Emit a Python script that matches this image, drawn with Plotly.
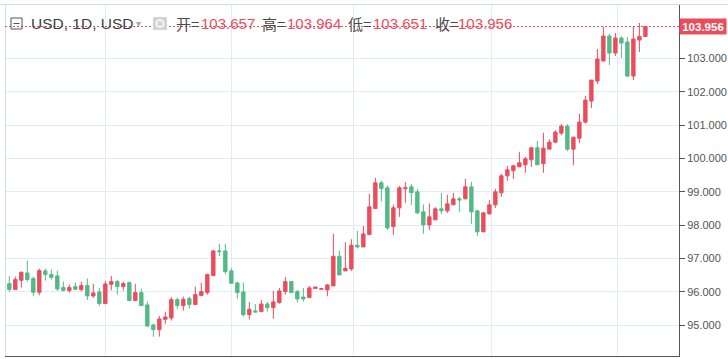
import plotly.graph_objects as go

# ---- data ----
opens = [96.25, 96.07, 96.35, 96.57, 96.40, 95.99, 96.63, 96.52, 96.48, 96.13,
         96.04, 96.16, 96.07, 96.19, 95.88, 96.00, 95.65, 96.23, 96.31, 96.16,
         96.28, 95.74, 95.98, 95.61, 95.01, 94.87, 95.18, 95.22, 95.77, 95.59,
         95.80, 95.62, 95.89, 95.98, 96.49, 97.23, 97.23, 96.63, 96.27, 96.00,
         95.32, 95.43, 95.41, 95.64, 95.53, 95.68, 96.01, 96.31, 96.01, 95.85,
         95.83, 96.10, 96.08, 96.06, 96.18, 97.07, 96.63, 96.69, 97.40, 97.35,
         97.72, 98.50, 99.27, 99.12, 97.96, 98.52, 99.09, 99.15, 99.00, 98.40,
         98.01, 98.16, 98.49, 98.43, 98.61, 98.79, 98.79, 99.15, 98.43, 97.80,
         98.34, 98.61, 98.97, 99.48, 99.63, 99.75, 99.81, 99.96, 100.32, 99.84,
         100.28, 100.49, 100.76, 100.97, 100.28, 100.61, 101.09, 101.72, 102.32, 102.92,
         103.67, 103.16, 103.61, 103.49, 102.47, 103.55, 103.657]
highs = [96.47, 96.46, 96.61, 96.94, 96.46, 96.70, 96.70, 96.67, 96.64, 96.31,
         96.22, 96.28, 96.31, 96.40, 96.24, 96.12, 96.33, 96.48, 96.36, 96.31,
         96.31, 96.24, 96.10, 95.71, 95.05, 95.28, 95.41, 95.85, 95.83, 95.86,
         95.86, 96.16, 96.28, 96.55, 97.25, 97.44, 97.44, 96.71, 96.31, 96.28,
         95.70, 95.64, 95.76, 95.70, 96.03, 96.12, 96.45, 96.31, 96.06, 96.12,
         96.18, 96.15, 96.10, 96.24, 97.74, 97.24, 97.49, 97.58, 97.83, 97.98,
         98.94, 99.42, 99.33, 99.19, 98.61, 99.18, 99.30, 99.24, 99.09, 98.62,
         98.65, 98.54, 98.97, 98.91, 98.97, 98.85, 99.39, 99.30, 98.46, 98.40,
         98.76, 99.09, 99.54, 99.78, 99.81, 100.20, 100.05, 100.35, 100.53, 100.77,
         100.58, 100.85, 101.03, 101.03, 100.64, 101.34, 101.88, 102.35, 103.28, 103.94,
         103.73, 103.76, 103.67, 103.64, 103.94, 104.06, 103.964]
lows = [96.01, 96.07, 96.13, 96.31, 95.87, 95.90, 96.34, 96.37, 96.03, 96.01,
        95.98, 96.07, 96.01, 95.76, 95.82, 95.58, 95.65, 96.05, 95.92, 96.04,
        95.72, 95.74, 95.59, 94.95, 94.66, 94.66, 95.04, 95.14, 95.49, 95.44,
        95.50, 95.62, 95.89, 95.92, 96.49, 97.07, 96.53, 96.26, 95.80, 95.26,
        95.17, 95.39, 95.41, 95.41, 95.20, 95.65, 95.92, 95.98, 95.68, 95.71,
        95.83, 96.10, 96.08, 95.87, 96.18, 96.51, 96.63, 96.63, 97.30, 97.35,
        97.72, 98.50, 98.71, 97.86, 97.71, 98.25, 98.67, 98.61, 98.34, 97.74,
        97.85, 98.16, 98.34, 98.37, 98.61, 98.40, 98.79, 98.04, 97.68, 97.80,
        98.31, 98.52, 98.85, 99.33, 99.39, 99.75, 99.57, 99.75, 99.81, 99.57,
        100.28, 100.46, 100.70, 100.22, 99.80, 100.46, 101.04, 101.51, 102.23, 102.92,
        102.80, 103.07, 103.01, 102.44, 102.35, 103.19, 103.651]
closes = [96.07, 96.37, 96.59, 96.37, 95.99, 96.64, 96.52, 96.44, 96.09, 96.05,
          96.13, 96.08, 96.19, 95.88, 95.97, 95.65, 96.24, 96.31, 96.16, 96.25,
          95.74, 95.98, 95.59, 94.98, 94.87, 95.19, 95.25, 95.77, 95.59, 95.78,
          95.62, 95.92, 96.01, 96.52, 97.23, 97.21, 96.61, 96.26, 95.98, 95.32,
          95.48, 95.40, 95.64, 95.53, 95.70, 96.03, 96.31, 95.98, 95.79, 95.79,
          96.12, 96.15, 96.10, 96.21, 97.07, 96.51, 96.71, 97.40, 97.35, 97.74,
          98.55, 99.27, 99.10, 97.92, 98.52, 99.12, 99.12, 98.98, 98.37, 98.01,
          98.25, 98.49, 98.43, 98.64, 98.79, 98.76, 99.15, 98.40, 97.80, 98.37,
          98.61, 99.00, 99.48, 99.66, 99.78, 99.87, 99.99, 100.32, 99.81, 100.31,
          100.49, 100.79, 100.97, 100.28, 100.64, 101.09, 101.75, 102.35, 102.98, 103.67,
          103.16, 103.61, 103.46, 102.47, 103.58, 103.66, 103.956]
bar_index = list(range(len(closes)))

y_tickvals = [95, 96, 97, 98, 99, 100, 101, 102, 103]
y_ticktext = ["95.000", "96.000", "97.000", "98.000", "99.000",
              "100.000", "101.000", "102.000", "103.000"]
x_grid_positions = [16.1, 37.1, 57.3, 80.3, 101.3]

header_symbol = "USD, 1D, USD"
ohlc_labels = ["开=", "高=", "低=", "收="]
ohlc_values = ["103.657", "103.964", "103.651", "103.956"]
last_price = 103.956
last_price_text = "103.956"

UP = "#eb4d5c"
DOWN = "#53b987"
GRID = "#e3ecf2"
AXIS = "#555555"

# plot area geometry (pixels)
W, H = 728, 359
ML, MR, MT, MB = 5, 49, 5, 3
PW, PH = W - ML - MR, H - MT - MB


def px_x(px):
    return (px - ML) / PW


def px_y(py):
    return (H - MB - py) / PH


fig = go.Figure()
fig.add_trace(go.Candlestick(
    x=bar_index, open=opens, high=highs, low=lows, close=closes,
    increasing=dict(fillcolor=UP, line=dict(color=UP, width=1)),
    decreasing=dict(fillcolor=DOWN, line=dict(color=DOWN, width=1)),
    whiskerwidth=0, hoverinfo="skip", showlegend=False,
))

fig.update_layout(
    width=W, height=H,
    margin=dict(l=ML, r=MR, t=MT, b=MB, pad=0, autoexpand=False),
    paper_bgcolor="white", plot_bgcolor="white",
    boxgap=0.2,
    showlegend=False,
    xaxis=dict(
        range=[-0.72, 111.6], rangeslider=dict(visible=False),
        tickvals=x_grid_positions, showticklabels=False, ticks="",
        showgrid=True, gridcolor=GRID, gridwidth=1, zeroline=False,
        showline=True, linecolor=AXIS, linewidth=1,
    ),
    yaxis=dict(
        side="right", range=[94.08, 104.60],
        tickvals=y_tickvals, ticktext=y_ticktext,
        ticks="outside", ticklen=5, tickcolor=AXIS, tickwidth=1,
        tickfont=dict(family="Liberation Sans, Arial, sans-serif", size=11, color=AXIS),
        showgrid=True, gridcolor=GRID, gridwidth=1, zeroline=False,
        showline=True, linecolor=AXIS, linewidth=1,
    ),
)

shapes = [
    # top and left light borders
    dict(type="line", xref="paper", yref="paper", x0=px_x(0), x1=px_x(W), y0=px_y(4.5), y1=px_y(4.5),
         line=dict(color="#d6dbe0", width=1)),
    dict(type="line", xref="paper", yref="paper", x0=px_x(5.5), x1=px_x(5.5), y0=0, y1=px_y(4.5),
         line=dict(color="#d6dbe0", width=1)),
    # last price dashed line
    dict(type="line", xref="paper", yref="y", x0=0, x1=1, y0=last_price, y1=last_price,
         line=dict(color=UP, width=1, dash="2px,2px")),
    # gray icon box
    dict(type="rect", xref="paper", yref="paper", x0=px_x(153), x1=px_x(167), y0=px_y(30), y1=px_y(17),
         fillcolor="#d4d4d4", line=dict(width=0)),
    dict(type="circle", xref="paper", yref="paper", x0=px_x(156.5), x1=px_x(163.5), y0=px_y(27), y1=px_y(20),
         fillcolor="rgba(0,0,0,0)", line=dict(color="white", width=1.5)),
    # collapse-box icon
    dict(type="rect", xref="paper", yref="paper", x0=px_x(11), x1=px_x(22), y0=px_y(29), y1=px_y(18),
         fillcolor="rgba(0,0,0,0)", line=dict(color="#555555", width=1)),
    dict(type="line", xref="paper", yref="paper", x0=px_x(13.5), x1=px_x(19.5), y0=px_y(23.5), y1=px_y(23.5),
         line=dict(color="#555555", width=1)),
]
fig.update_layout(shapes=shapes)

FONT = "Liberation Sans, Noto Sans CJK SC, Arial, sans-serif"
CJK = "Noto Sans CJK SC, Liberation Sans, sans-serif"
ann = []
hy = px_y(23)


def add_text(px, text, size, color, family=FONT):
    ann.append(dict(xref="paper", yref="paper", x=px_x(px), y=hy, text=text,
                    xanchor="left", yanchor="middle", showarrow=False,
                    font=dict(family=family, size=size, color=color)))


add_text(29, header_symbol, 15.5, "#3e3e3e")
add_text(134, "▾", 10, "#aaaaaa", "DejaVu Sans, sans-serif")
label_px = [174, 260, 346, 433]
value_px = [199, 285, 371, 456]
for lx, vx, lab, val in zip(label_px, value_px, ohlc_labels, ohlc_values):
    add_text(lx, lab, 15, "#4a4a4a", CJK)
    add_text(vx, val, 15, UP)

ann.append(dict(xref="paper", yref="y", x=1, y=last_price, text="<b>" + last_price_text + "</b>",
                xanchor="left", yanchor="middle", showarrow=False, xshift=0,
                bgcolor=UP, width=44, height=13, borderpad=1, align="center",
                font=dict(family=FONT, size=11.5, color="white")))
fig.update_layout(annotations=ann)

fig.write_html("out.html", config={"displayModeBar": False},
               post_script="document.body.style.margin='0';document.body.style.padding='0';")
